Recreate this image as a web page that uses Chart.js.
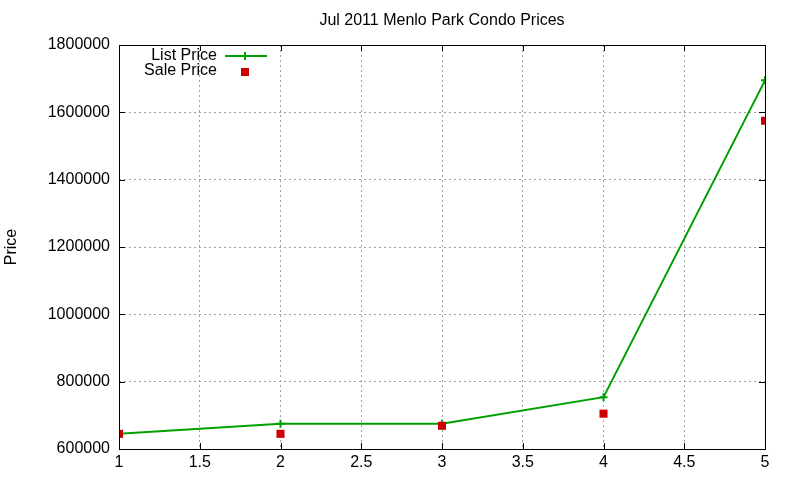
<!DOCTYPE html>
<html><head><meta charset="utf-8">
<script src="https://cdn.jsdelivr.net/npm/chart.js@4"></script>
<style>html,body{margin:0;padding:0;background:#fff}#wrap{width:800px;height:480px}</style>
</head><body><div id="wrap"><canvas id="c" width="800" height="480"></canvas></div>
<script>
const titleText = "Jul 2011 Menlo Park Condo Prices";
const xValues = [1, 2, 3, 4, 5];
const listPrice = [645000, 675000, 675000, 754000, 1695000];
const salePrice = [645000, 645000, 669000, 705000, 1575000];
const yTicks = [600000, 800000, 1000000, 1200000, 1400000, 1600000, 1800000];
const xTicks = [1, 1.5, 2, 2.5, 3, 3.5, 4, 4.5, 5];
const seriesNames = ["List Price", "Sale Price"];

const FONT = "Liberation Sans, Arial, sans-serif";
const green = "#00a000", red = "#cc0000";

const frame = {
  id: 'frame',
  afterDraw(chart) {
    const {ctx, chartArea: a, scales} = chart;
    ctx.save();
    ctx.strokeStyle = '#000'; ctx.lineWidth = 1;
    ctx.beginPath();
    xTicks.forEach(v => {
      const x = Math.round(scales.x.getPixelForValue(v)) + 0.5;
      ctx.moveTo(x, a.bottom); ctx.lineTo(x, a.bottom - 6);
      ctx.moveTo(x, a.top); ctx.lineTo(x, a.top + 6);
    });
    yTicks.forEach(v => {
      const y = Math.round(scales.y.getPixelForValue(v)) + 0.5;
      ctx.moveTo(a.left, y); ctx.lineTo(a.left + 6, y);
      ctx.moveTo(a.right, y); ctx.lineTo(a.right - 6, y);
    });
    ctx.stroke();
    ctx.strokeRect(Math.round(a.left) + 0.5, Math.round(a.top) + 0.5, Math.round(a.right - a.left), Math.round(a.bottom - a.top));
    ctx.fillStyle = '#000';
    ctx.font = '16px ' + FONT;
    ctx.textAlign = 'center'; ctx.textBaseline = 'middle';
    ctx.fillText(titleText, (a.left + a.right) / 2, 21);
    ctx.textAlign = 'right';
    ctx.fillText(seriesNames[0], 217, 56);
    ctx.fillText(seriesNames[1], 217, 71);
    ctx.strokeStyle = green; ctx.lineWidth = 2;
    ctx.beginPath(); ctx.moveTo(225, 56); ctx.lineTo(267, 56);
    ctx.moveTo(245, 52); ctx.lineTo(245, 60); ctx.stroke();
    ctx.fillStyle = red; ctx.fillRect(241, 68, 8, 8);
    ctx.restore();
  }
};

new Chart(document.getElementById('c'), {
  type: 'line',
  data: {
    datasets: [
      { label: seriesNames[0], data: xValues.map((x, i) => ({x, y: listPrice[i]})),
        borderColor: green, backgroundColor: green, borderWidth: 2,
        pointStyle: 'cross', pointRadius: 4, pointBorderWidth: 2, tension: 0, order: 2 },
      { label: seriesNames[1], data: xValues.map((x, i) => ({x, y: salePrice[i]})),
        showLine: false, borderColor: red, backgroundColor: red,
        pointStyle: 'rect', pointRadius: 5.7, pointBorderWidth: 0, order: 1 }
    ]
  },
  options: {
    responsive: false, animation: false,
    layout: { padding: { top: 45, right: 35, left: 0, bottom: 0 } },
    plugins: { legend: { display: false }, title: { display: false }, tooltip: { enabled: false } },
    scales: {
      x: {
        type: 'linear', min: 1, max: 5,
        afterFit(s) { s.height = 31; },
        afterBuildTicks(s) { s.ticks = xTicks.map(v => ({value: v})); },
        ticks: { color: '#000', font: { size: 16, family: FONT }, padding: 4, maxRotation: 0,
                 callback: v => String(v) },
        grid: { color: '#a0a0a0', lineWidth: 1, drawTicks: false },
        border: { display: false, dash: [2, 3] }
      },
      y: {
        min: 600000, max: 1800000,
        afterFit(s) { s.width = 119; },
        afterBuildTicks(s) { s.ticks = yTicks.map(v => ({value: v})); },
        ticks: { color: '#000', font: { size: 16, family: FONT }, padding: 9,
                 callback: v => String(v) },
        title: { display: true, text: 'Price', color: '#000', font: { size: 16, family: FONT }, padding: { top: 2, bottom: 0 } },
        grid: { color: '#a0a0a0', lineWidth: 1, drawTicks: false },
        border: { display: false, dash: [2, 3] }
      }
    }
  },
  plugins: [frame]
});
</script></body></html>
